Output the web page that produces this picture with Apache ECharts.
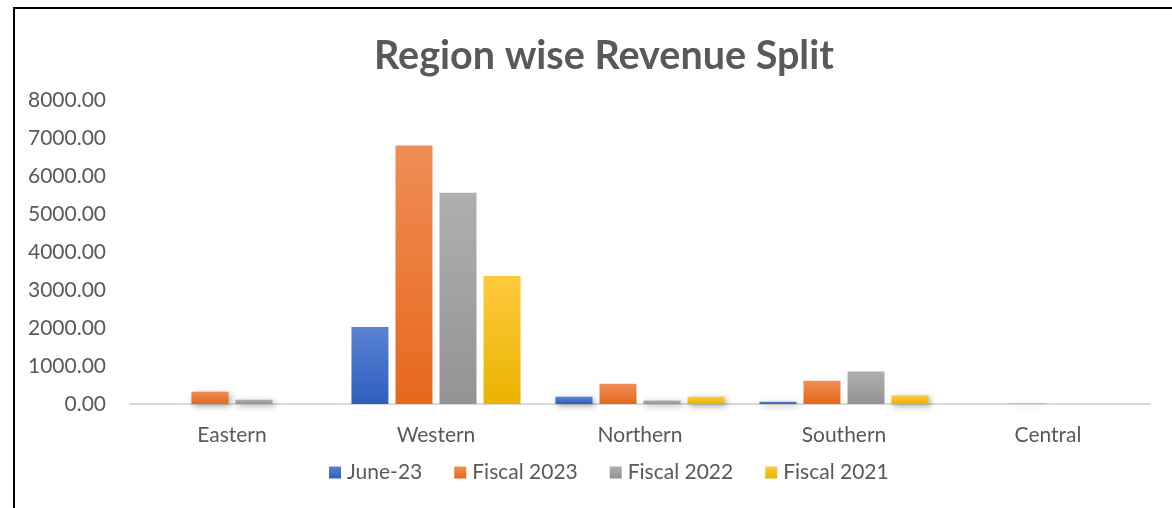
<!DOCTYPE html>
<html>
<head>
<meta charset="utf-8">
<script src="https://cdn.jsdelivr.net/npm/echarts@6/dist/echarts.min.js"></script>
<style>
  html, body { margin: 0; padding: 0; background: #fff; }
  #chart { width: 1172px; height: 508px; }
</style>
</head>
<body>
<div id="chart"></div>
<script>
const regions = ['Eastern', 'Western', 'Northern', 'Southern', 'Central']
const june23 = [0, 2025, 190, 60, 0]
const fiscal2023 = [320, 6800, 535, 615, 12]
const fiscal2022 = [115, 5560, 90, 855, 0]
const fiscal2021 = [0, 3370, 190, 225, 0]
const yTicks = [0, 1000, 2000, 3000, 4000, 5000, 6000, 7000, 8000]

const grad = (top, bottom) => ({
  type: 'linear', x: 0, y: 0, x2: 0, y2: 1,
  colorStops: [{ offset: 0, color: top }, { offset: 1, color: bottom }]
})

const bar = (name, data, top, bottom) => ({
  name,
  type: 'bar',
  data,
  barWidth: 37,
  barGap: '19%',
  itemStyle: {
    color: grad(top, bottom),
    shadowBlur: 6,
    shadowColor: 'rgba(0,0,0,0.35)',
    shadowOffsetX: 2,
    shadowOffsetY: 2
  }
})

const myEChart = echarts.init(document.getElementById('chart'))
const option = {
  backgroundColor: '#fff',
  textStyle: { fontFamily: 'Lato' },
  title: {
    text: 'Region wise Revenue Split',
    left: 369,
    top: 31,
    textStyle: { fontFamily: 'Lato', fontWeight: 'bold', fontSize: 39.5, color: '#595959' }
  },
  legend: {
    bottom: 20,
    left: 324,
    itemWidth: 12,
    itemHeight: 12,
    itemGap: 32,
    icon: 'rect',
    textStyle: { fontFamily: 'Lato', fontSize: 21, color: '#595959', padding: [0, 0, 0, 1] },
    data: ['June-23', 'Fiscal 2023', 'Fiscal 2022', 'Fiscal 2021']
  },
  grid: { left: 130, right: 22, top: 100, bottom: 104, containLabel: false },
  xAxis: {
    type: 'category',
    data: regions,
    axisLine: { lineStyle: { color: '#d9d9d9', width: 2 } },
    axisTick: { show: false },
    axisLabel: { fontFamily: 'Lato', fontSize: 21, color: '#595959', margin: 21 }
  },
  yAxis: {
    type: 'value',
    min: yTicks[0],
    max: yTicks[yTicks.length - 1],
    interval: 1000,
    axisLine: { show: false },
    axisTick: { show: false },
    splitLine: { show: false },
    axisLabel: {
      fontFamily: 'Lato', fontSize: 21, color: '#595959', margin: 24,
      formatter: v => v.toFixed(2)
    }
  },
  graphic: [{
    type: 'rect',
    shape: { x: 14, y: 8, width: 1300, height: 700 },
    style: { fill: 'none', stroke: '#000', lineWidth: 2 },
    silent: true
  }],
  series: [
    bar('June-23', june23, '#5a82d2', '#2f5fbf'),
    bar('Fiscal 2023', fiscal2023, '#f08d56', '#e6681b'),
    bar('Fiscal 2022', fiscal2022, '#afafaf', '#939393'),
    bar('Fiscal 2021', fiscal2021, '#ffc93d', '#e9b300')
  ]
}
myEChart.setOption(option)
window.addEventListener('resize', () => {
  myEChart?.resize()
})
</script>
</body>
</html>
